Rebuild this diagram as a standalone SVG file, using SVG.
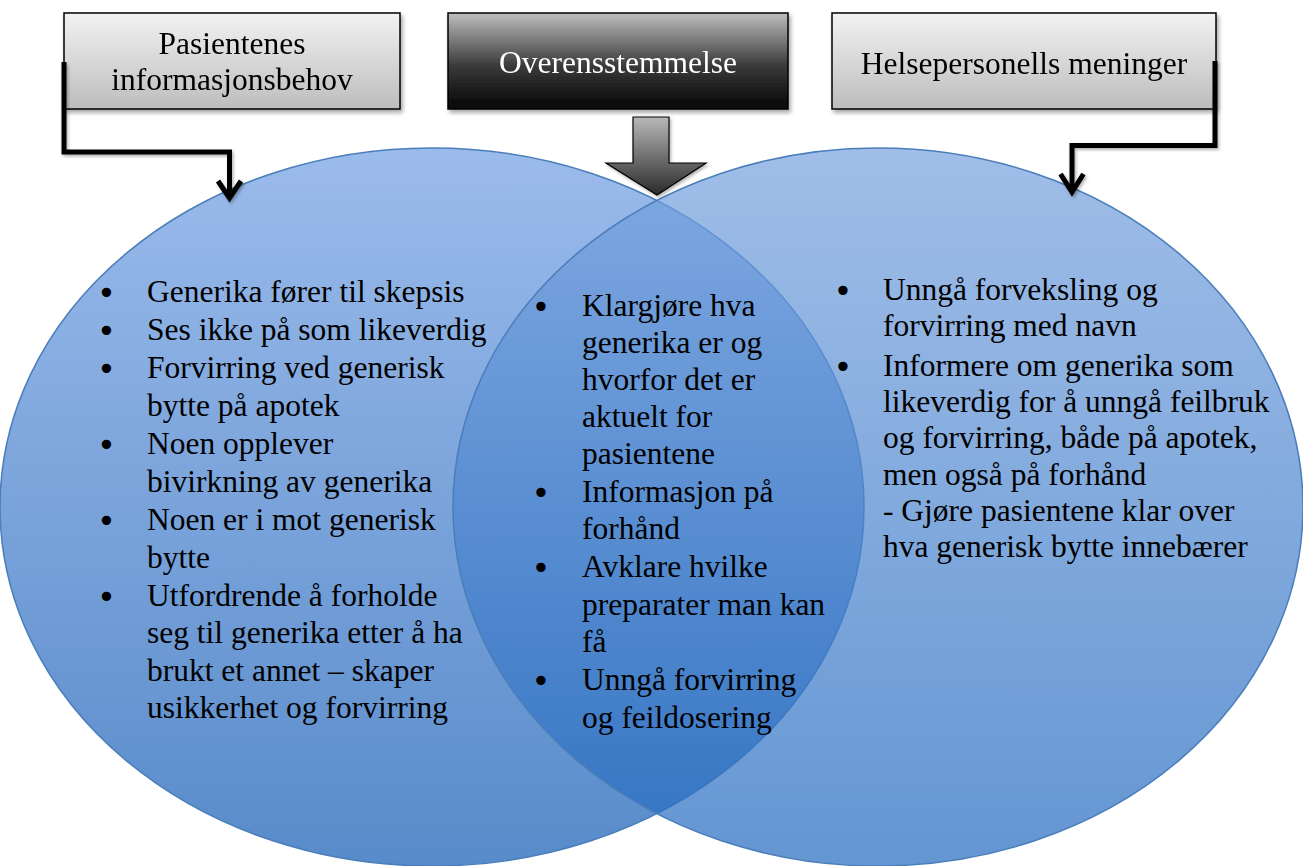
<svg xmlns="http://www.w3.org/2000/svg" width="1303" height="866" viewBox="0 0 1303 866">
<style>
  .t { font-family: "Liberation Serif", "Times New Roman", serif; font-size: 31.5px; fill: #000; }
  .b { font-family: "DejaVu Sans", sans-serif; font-size: 32px; fill: #000; }
  .bt { font-family: "Liberation Serif", "Times New Roman", serif; font-size: 31.5px; text-anchor: middle; }
  .conn { fill: none; stroke: #000; stroke-width: 5; stroke-linejoin: miter; }
  .venn { stroke: #4A7EBB; stroke-width: 1.5; }
</style>
<defs>
  <linearGradient id="gLight" x1="0" y1="0" x2="0" y2="1">
    <stop offset="0" stop-color="#F2F2F2"/>
    <stop offset="1" stop-color="#BDBDBD"/>
  </linearGradient>
  <linearGradient id="gDark" x1="0" y1="0" x2="0" y2="1">
    <stop offset="0" stop-color="#BEBEBE"/>
    <stop offset="0.55" stop-color="#3A3A3A"/>
    <stop offset="1" stop-color="#050505"/>
  </linearGradient>
  <linearGradient id="gArrow" x1="0" y1="0" x2="0" y2="1">
    <stop offset="0" stop-color="#B8B8B8"/>
    <stop offset="1" stop-color="#2A2A2A"/>
  </linearGradient>
  <linearGradient id="gLeft" gradientUnits="userSpaceOnUse" x1="0" y1="148" x2="0" y2="866">
    <stop offset="0" stop-color="#9BBBEB"/>
    <stop offset="1" stop-color="#588BCA"/>
  </linearGradient>
  <linearGradient id="gRight" gradientUnits="userSpaceOnUse" x1="0" y1="148" x2="0" y2="866">
    <stop offset="0" stop-color="#77A2DE"/>
    <stop offset="1" stop-color="#2269BF"/>
  </linearGradient>
  <filter id="sh" x="-10%" y="-10%" width="130%" height="140%">
    <feDropShadow dx="2" dy="3" stdDeviation="2" flood-color="#000" flood-opacity="0.35"/>
  </filter>
  <filter id="shs" x="-10%" y="-10%" width="130%" height="140%">
    <feDropShadow dx="1.5" dy="2" stdDeviation="1.5" flood-color="#000" flood-opacity="0.3"/>
  </filter>
</defs>
<rect width="1303" height="866" fill="#FFFFFF"/>

<g id="circle-left">
  <ellipse class="venn" cx="432" cy="507" rx="432" ry="359" fill="url(#gLeft)"/>
</g>
<g id="circle-right">
  <ellipse class="venn" cx="878" cy="507" rx="425" ry="359" fill="url(#gRight)" fill-opacity="0.7"/>
</g>

<g id="box-left" filter="url(#sh)">
  <rect x="64" y="13" width="336" height="96" fill="url(#gLight)" stroke="#000" stroke-width="1.5"/>
  <text class="bt" x="232" y="54">Pasientenes</text>
  <text class="bt" x="232" y="90">informasjonsbehov</text>
</g>
<g id="box-center" filter="url(#sh)">
  <rect x="448" y="13" width="340" height="96" fill="url(#gDark)" stroke="#000" stroke-width="1.5"/>
  <text class="bt" x="618" y="73" fill="#FFFFFF">Overensstemmelse</text>
</g>
<g id="box-right" filter="url(#sh)">
  <rect x="832" y="13" width="384" height="96" fill="url(#gLight)" stroke="#000" stroke-width="1.5"/>
  <text class="bt" x="1024" y="74">Helsepersonells meninger</text>
</g>

<g id="connectors">
  <g filter="url(#shs)">
    <path class="conn" d="M64 62 V152 H229.5 V197"/>
    <path class="conn" d="M218 181 L229.5 198 L241 181"/>
    <path class="conn" d="M1215 61 V145.5 H1072 V191"/>
    <path class="conn" d="M1060.5 174 L1072 192 L1083.5 174"/>
  </g>
  <path d="M633 117 H669 V163 H706 L657 195 L606 163 H633 Z" fill="url(#gArrow)" stroke="#000" stroke-width="1.2" filter="url(#shs)"/>
</g>

<g id="text-left">
  <text class="b" x="97" y="304">•</text>
  <text class="b" x="97" y="342">•</text>
  <text class="b" x="97" y="380">•</text>
  <text class="b" x="97" y="456">•</text>
  <text class="b" x="97" y="532">•</text>
  <text class="b" x="97" y="608">•</text>
  <text class="t" x="147" y="302">Generika fører til skepsis</text>
  <text class="t" x="147" y="340">Ses ikke på som likeverdig</text>
  <text class="t" x="147" y="378">Forvirring ved generisk</text>
  <text class="t" x="147" y="416">bytte på apotek</text>
  <text class="t" x="147" y="454">Noen opplever</text>
  <text class="t" x="147" y="492">bivirkning av generika</text>
  <text class="t" x="147" y="530">Noen er i mot generisk</text>
  <text class="t" x="147" y="568">bytte</text>
  <text class="t" x="147" y="606">Utfordrende å forholde</text>
  <text class="t" x="147" y="643">seg til generika etter å ha</text>
  <text class="t" x="147" y="681">brukt et annet – skaper</text>
  <text class="t" x="147" y="718">usikkerhet og forvirring</text>
</g>

<g id="text-center">
  <text class="b" x="531.5" y="318">•</text>
  <text class="b" x="531.5" y="504">•</text>
  <text class="b" x="531.5" y="579">•</text>
  <text class="b" x="531.5" y="692">•</text>
  <text class="t" x="582" y="316">Klargjøre hva</text>
  <text class="t" x="582" y="353">generika er og</text>
  <text class="t" x="582" y="390">hvorfor det er</text>
  <text class="t" x="582" y="427">aktuelt for</text>
  <text class="t" x="582" y="464">pasientene</text>
  <text class="t" x="582" y="502">Informasjon på</text>
  <text class="t" x="582" y="539">forhånd</text>
  <text class="t" x="582" y="577">Avklare hvilke</text>
  <text class="t" x="582" y="615">preparater man kan</text>
  <text class="t" x="582" y="652">få</text>
  <text class="t" x="582" y="690">Unngå forvirring</text>
  <text class="t" x="582" y="728">og feildosering</text>
</g>

<g id="text-right">
  <text class="b" x="833.5" y="302">•</text>
  <text class="b" x="833.5" y="378">•</text>
  <text class="t" x="883" y="300">Unngå forveksling og</text>
  <text class="t" x="883" y="336">forvirring med navn</text>
  <text class="t" x="883" y="376">Informere om generika som</text>
  <text class="t" x="883" y="412">likeverdig for å unngå feilbruk</text>
  <text class="t" x="883" y="448">og forvirring, både på apotek,</text>
  <text class="t" x="883" y="485">men også på forhånd</text>
  <text class="t" x="883" y="521">- Gjøre pasientene klar over</text>
  <text class="t" x="883" y="557">hva generisk bytte innebærer</text>
</g>
</svg>
